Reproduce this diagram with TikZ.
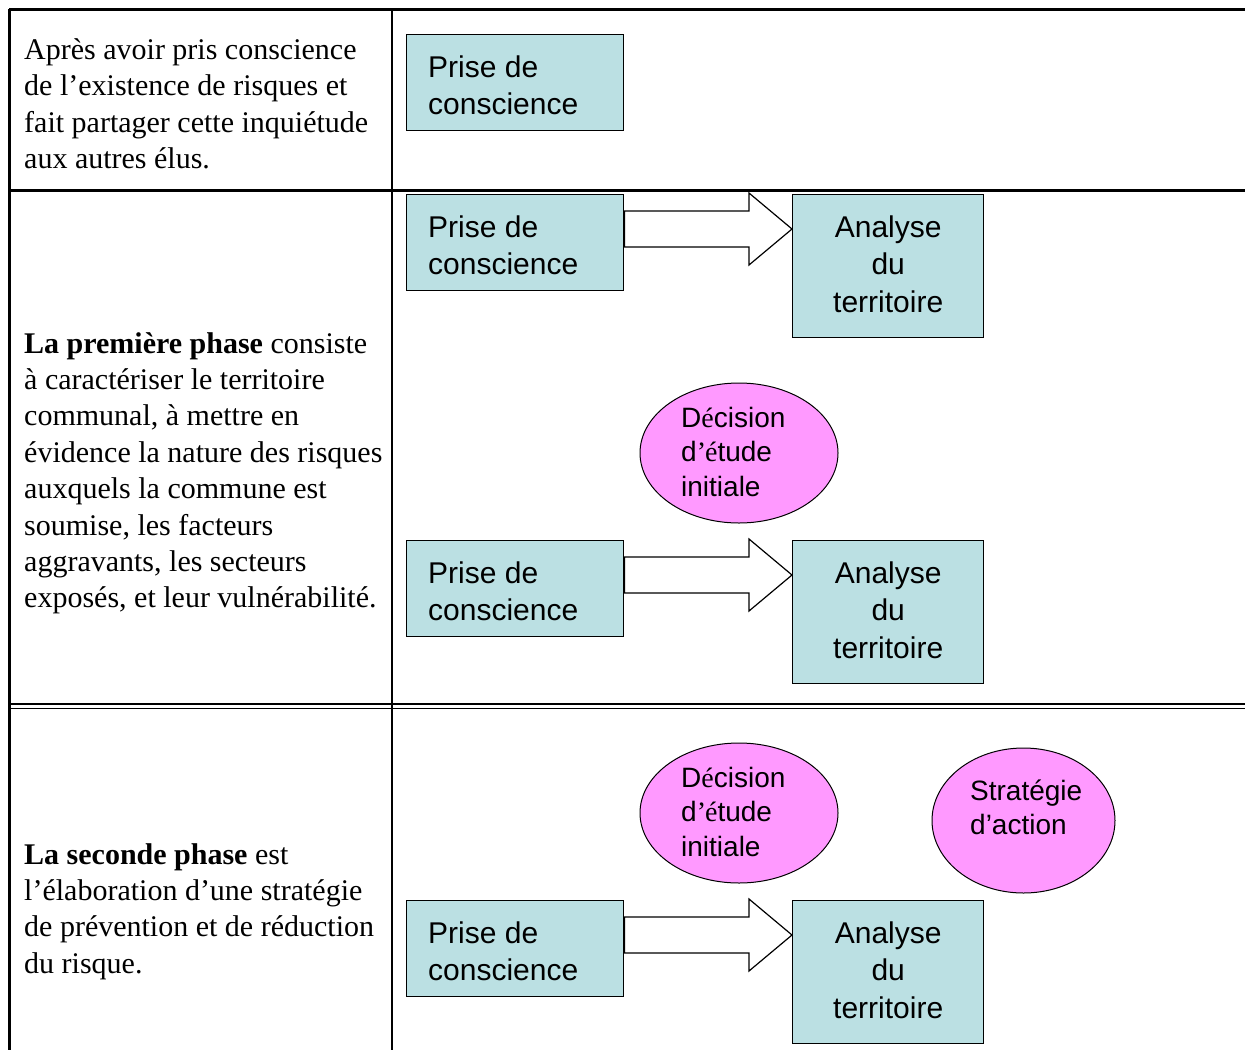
\documentclass[tikz,border=0pt]{standalone}
\usepackage{fontspec}
\setmainfont{Liberation Serif}
\newfontfamily\boxfont{Liberation Sans}
\usetikzlibrary{shapes.geometric,calc}
\definecolor{boxteal}{RGB}{187,224,227}
\definecolor{ovalpink}{RGB}{255,153,255}
\pgfdeclarelayer{background}
\pgfsetlayers{background,main}
\newcommand{\linesL}[1]{\begin{tabular}[t]{@{}l@{}}#1\end{tabular}}
\newcommand{\linesC}[1]{\begin{tabular}[t]{@{}c@{}}#1\end{tabular}}
\newcommand{\sE}{{\rmfamily é}}
\begin{document}
\begin{tikzpicture}[x=1pt,y=-1pt,
  rule/.style={line width=#1},
  pbox/.style={draw=black, line width=1.4pt, fill=boxteal, rectangle, minimum width=217pt, minimum height=96pt, inner sep=0pt, anchor=north west},
  abox/.style={draw=black, line width=1.4pt, fill=boxteal, rectangle, minimum width=191pt, minimum height=143pt, inner sep=0pt, anchor=north west},
  oval/.style={ellipse, draw=black, line width=1pt, fill=ovalpink, inner sep=0pt},
  btxt/.style={font=\boxfont\fontsize{30}{37.5}\selectfont, inner sep=0pt, anchor=base west},
  ctxt/.style={font=\boxfont\fontsize{30}{37.5}\selectfont, inner sep=0pt, anchor=base},
  otxt/.style={font=\boxfont\fontsize{28}{34.5}\selectfont, inner sep=0pt, anchor=base west},
  ltxt/.style={font=\fontsize{30}{36.4}\selectfont, inner sep=0pt, anchor=base west},
  blockarrow/.style={draw=black, fill=white, line width=1.2pt, line join=miter}
]
\useasboundingbox (0,0) rectangle (1245,1050);

% table rules
\draw[rule=3pt] (9,9) -- (1245,9);
\draw[rule=3pt] (9,9) -- (9,1050);
\draw[rule=2.5pt] (392,9) -- (392,1050);
\draw[rule=3.8pt] (9,190.5) -- (1245,190.5);
\draw[rule=1.7pt] (9,704) -- (1245,704);
\draw[rule=1.7pt] (9,708.5) -- (1245,708.5);

% left column texts
\node[ltxt] (t1) at (24,59.5) {\linesL{Après avoir pris conscience\\de l’existence de risques et\\fait partager cette inquiétude\\aux autres élus.}};
\node[ltxt] (t2) at (24,353) {\linesL{\textbf{La première phase} consiste\\à caractériser le territoire\\communal, à mettre en\\évidence la nature des risques\\auxquels la commune est\\soumise, les facteurs\\aggravants, les secteurs\\exposés, et leur vulnérabilité.}};
\node[ltxt] (t3) at (24,864) {\linesL{\textbf{La seconde phase} est\\l’élaboration d’une stratégie\\de prévention et de réduction\\du risque.}};

% row 1
\node[pbox] (p1) at (406,34) {};
\node[btxt] (p1t) at ($(p1.north west)+(22,43)$) {\linesL{Prise de\\conscience}};

% row 2, top
\node[pbox] (p2) at (406,194) {};
\node[abox] (a2) at (792,194) {};
\node[btxt] (p2t) at ($(p2.north west)+(22,43)$) {\linesL{Prise de\\conscience}};
\node[ctxt] (a2t) at ($(a2.north)+(0,43)$) {\linesC{Analyse\\du\\territoire}};
\begin{pgfonlayer}{background}
\draw[blockarrow] ($(p2.north east)+(0,17)$) -- ($(a2.north west)+(-43,17)$) -- ($(a2.north west)+(-43,-1)$) -- ($(a2.north west)+(0,35)$) -- ($(a2.north west)+(-43,71)$) -- ($(a2.north west)+(-43,53)$) -- ($(p2.north east)+(0,53)$) -- cycle;
\end{pgfonlayer}

% row 2, bottom
\node[oval, minimum width=198pt, minimum height=140pt] (d2) at (739,453) {};
\node[otxt] (d2t) at (681,427) {\linesL{D\sE cision\\d{\rmfamily’\kern-1pt é}tude\\initiale}};
\node[pbox] (p3) at (406,540) {};
\node[abox] (a3) at (792,540) {};
\node[btxt] (p3t) at ($(p3.north west)+(22,43)$) {\linesL{Prise de\\conscience}};
\node[ctxt] (a3t) at ($(a3.north)+(0,43)$) {\linesC{Analyse\\du\\territoire}};
\begin{pgfonlayer}{background}
\draw[blockarrow] ($(p3.north east)+(0,17)$) -- ($(a3.north west)+(-43,17)$) -- ($(a3.north west)+(-43,-1)$) -- ($(a3.north west)+(0,35)$) -- ($(a3.north west)+(-43,71)$) -- ($(a3.north west)+(-43,53)$) -- ($(p3.north east)+(0,53)$) -- cycle;
\end{pgfonlayer}

% row 3
\node[oval, minimum width=198pt, minimum height=140pt] (d3) at (739,813) {};
\node[otxt] (d3t) at (681,787) {\linesL{D\sE cision\\d{\rmfamily’\kern-1pt é}tude\\initiale}};
\node[oval, minimum width=183pt, minimum height=145pt] (s3) at (1023.5,820.5) {};
\node[otxt] (s3t) at (970,800) {\linesL{Stratégie\\d’action}};
\node[pbox] (p4) at (406,900) {};
\node[abox] (a4) at (792,900) {};
\node[btxt] (p4t) at ($(p4.north west)+(22,43)$) {\linesL{Prise de\\conscience}};
\node[ctxt] (a4t) at ($(a4.north)+(0,43)$) {\linesC{Analyse\\du\\territoire}};
\begin{pgfonlayer}{background}
\draw[blockarrow] ($(p4.north east)+(0,17)$) -- ($(a4.north west)+(-43,17)$) -- ($(a4.north west)+(-43,-1)$) -- ($(a4.north west)+(0,35)$) -- ($(a4.north west)+(-43,71)$) -- ($(a4.north west)+(-43,53)$) -- ($(p4.north east)+(0,53)$) -- cycle;
\end{pgfonlayer}
\end{tikzpicture}
\end{document}
